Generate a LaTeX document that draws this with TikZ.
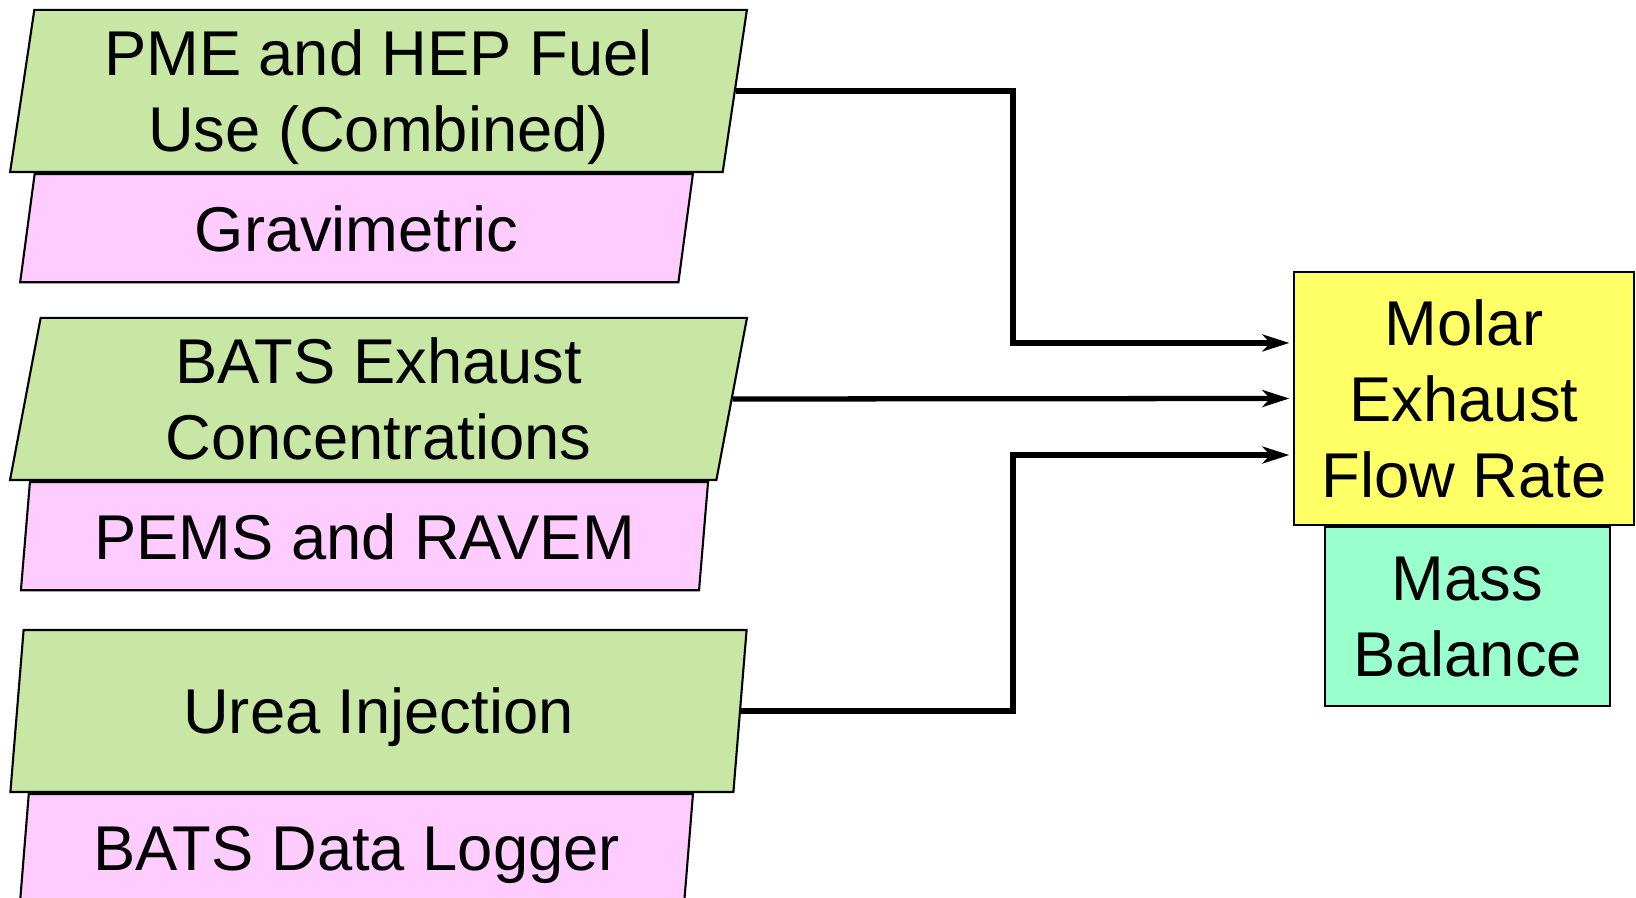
\documentclass[tikz,border=0pt]{standalone}
\usepackage{fontspec}
\setmainfont{Liberation Sans}
\usepackage{tikz}
\usetikzlibrary{arrows.meta, positioning, shapes.geometric}

\definecolor{srcgreen}{RGB}{200,230,164}
\definecolor{srcpink}{RGB}{255,204,255}
\definecolor{outyellow}{RGB}{255,255,102}
\definecolor{outteal}{RGB}{153,255,204}

\begin{document}
\begin{tikzpicture}[x=0.01cm, y=-0.01cm,
    every node/.style={font=\fontsize{18}{21.6}\selectfont, align=center,
        inner sep=0pt, text depth=0pt},
    source/.style={trapezium, trapezium left angle=81, trapezium right angle=99,
        trapezium stretches, draw, line width=0.6pt, fill=srcgreen,
        minimum width=7.37cm, minimum height=1.62cm},
    method/.style={source, fill=srcpink, minimum width=6.73cm, minimum height=1.08cm},
    result/.style={rectangle, draw, line width=0.6pt, fill=outyellow,
        minimum width=3.4cm, minimum height=2.53cm},
    flow/.style={line width=1.5pt, -{Stealth[length=0.27cm, width=0.17cm, inset=0.08cm]},
        shorten >=1pt}]

    \useasboundingbox (0,0) rectangle (1636,898);

    \node[source] (fuel) at (378.5,91) {PME and HEP Fuel\\Use (Combined)};
    \node[method, below=0pt of fuel, xshift=-0.22cm] (gravim) {Gravimetric};

    \node[source] (conc) at (378.5,399) {BATS Exhaust\\Concentrations};
    \node[method, below=0pt of conc, xshift=-0.14cm, minimum width=6.87cm] (pems) {PEMS and RAVEM};

    \node[source] (urea) at (378.5,711) {Urea Injection};
    \node[method, below=0pt of urea, xshift=-0.22cm] (logger) {BATS Data Logger};

    \node[result] (molar) at (1464,398.5) {Molar\\Exhaust\\Flow Rate};
    \node[result, fill=outteal, below=0pt of molar, xshift=0.035cm,
        minimum width=2.85cm, minimum height=1.79cm] (massbal) {Mass\\Balance};

    \coordinate (split) at (1013,0);
    \coordinate (in1) at ([yshift=0.555cm]molar.west);
    \coordinate (in3) at ([yshift=-0.565cm]molar.west);

    \draw[flow] (fuel.right side) -| (in1 -| split) -- (in1);
    \draw[flow] (conc.right side) -- (molar.west);
    \draw[flow] (urea.right side) -| (in3 -| split) -- (in3);
\end{tikzpicture}
\end{document}
